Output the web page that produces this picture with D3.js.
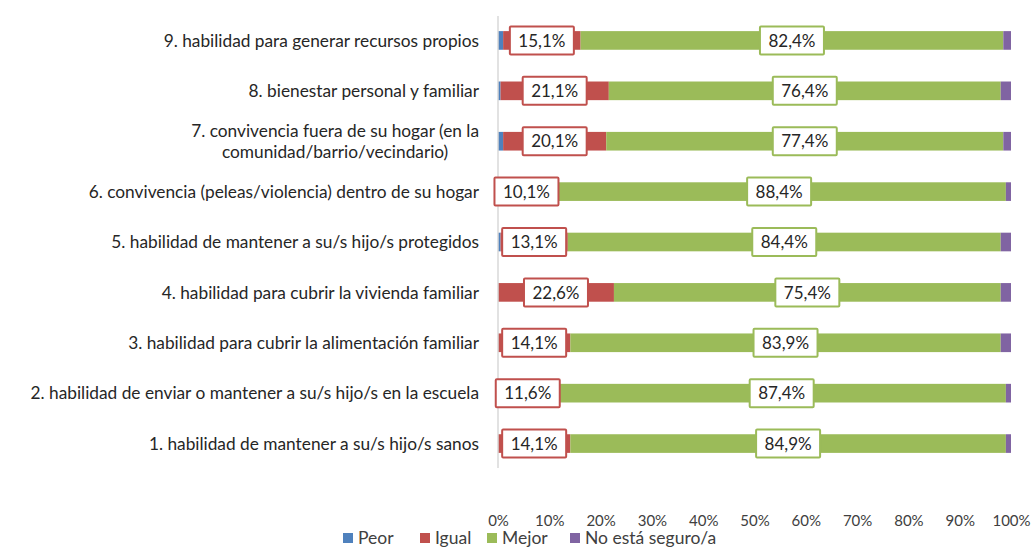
<!DOCTYPE html>
<html><head><meta charset="utf-8">
<script src="https://cdn.jsdelivr.net/npm/d3@7"></script>
<style>body{margin:0;background:#fff;} text{font-family:Lato,"Open Sans",sans-serif;}</style>
</head><body>
<svg id="chart" width="1034" height="547"></svg>
<script>
const categories = [
  "9. habilidad para generar recursos propios",
  "8. bienestar personal y familiar",
  "7. convivencia fuera de su hogar (en la|comunidad/barrio/vecindario)",
  "6. convivencia (peleas/violencia) dentro de su hogar",
  "5. habilidad de mantener a su/s hijo/s protegidos",
  "4. habilidad para cubrir la vivienda familiar",
  "3. habilidad para cubrir la alimentación familiar",
  "2. habilidad de enviar o mantener a su/s hijo/s en la escuela",
  "1. habilidad de mantener a su/s hijo/s sanos"
];
const seriesNames = ["Peor", "Igual", "Mejor", "No está seguro/a"];
const peor   = [1.0, 0.5, 1.0, 0.5, 0.5, 0.0, 0.0, 0.0, 0.0];
const igual  = [15.1, 21.1, 20.1, 10.1, 13.1, 22.6, 14.1, 11.6, 14.1];
const mejor  = [82.4, 76.4, 77.4, 88.4, 84.4, 75.4, 83.9, 87.4, 84.9];
const noSeg  = [1.5, 2.0, 1.5, 1.0, 2.0, 2.0, 2.0, 1.0, 1.0];
const xTicks = [0,10,20,30,40,50,60,70,80,90,100];
const colors = ["#4f81bd", "#c0504d", "#9bbb59", "#8064a2"];

const svg = d3.select("#chart");
const x = d3.scaleLinear().domain([0,100]).range([498, 1011]);
const y = d3.scaleBand().domain(categories).range([16, 468]).paddingInner(0.63).paddingOuter(0.3);

const data = categories.map((c,i)=>({cat:c, v:[peor[i], igual[i], mejor[i], noSeg[i]]}));
const stackData = data.map(d=>{ const o={cat:d.cat}; seriesNames.forEach((s,j)=>o[s]=d.v[j]); return o;});
const stack = d3.stack().keys(seriesNames)(stackData);

const g = svg.append("g");
stack.forEach((layer,j)=>{
  g.selectAll(null).data(layer).enter().append("rect")
    .attr("x", d=>x(d[0])).attr("width", d=>Math.max(0,x(d[1])-x(d[0])))
    .attr("y", d=>y(d.data.cat)).attr("height", y.bandwidth())
    .attr("fill", colors[j]);
});

// axis line
svg.append("line").attr("x1",x(0)).attr("x2",x(0)).attr("y1",16).attr("y2",468)
  .attr("stroke","#d9d9d9").attr("stroke-width",1.5);

// data labels for Igual and Mejor
[1,2].forEach(j=>{
  const layer = stack[j];
  layer.forEach(d=>{
    const cx = (x(d[0])+x(d[1]))/2;
    const cy = y(d.data.cat)+y.bandwidth()/2;
    const w = 64, h = 28;
    svg.append("rect").attr("x",cx-w/2).attr("y",cy-h/2).attr("width",w).attr("height",h)
      .attr("fill","#fff").attr("stroke",colors[j]).attr("stroke-width",2).attr("rx",1);
    svg.append("text").attr("x",cx).attr("y",cy).attr("dy","0.36em").attr("text-anchor","middle")
      .attr("font-size",17).attr("fill","#262626")
      .text((d[1]-d[0]).toFixed(1).replace(".",",")+"%");
  });
});

// category labels
const catFont = 17.3;
categories.forEach(c=>{
  const cy = y(c)+y.bandwidth()/2;
  const lines = c.split("|");
  if(lines.length===1){
    svg.append("text").attr("x",479).attr("y",cy).attr("dy","0.36em").attr("text-anchor","end")
      .attr("font-size",catFont).attr("fill","#262626").text(lines[0]);
  } else {
    const t1 = svg.append("text").attr("x",479).attr("y",cy-10).attr("dy","0.36em").attr("text-anchor","end")
      .attr("font-size",catFont).attr("fill","#262626").text(lines[0]);
    const w1 = t1.node().getComputedTextLength();
    svg.append("text").attr("x",479-w1/2).attr("y",cy+11).attr("dy","0.36em").attr("text-anchor","middle")
      .attr("font-size",catFont).attr("fill","#262626").text(lines[1]);
  }
});

// x axis tick labels
const ax = svg.append("g").attr("transform","translate(0,512)")
  .call(d3.axisBottom(x).tickValues(xTicks).tickFormat(d=>d+"%").tickSize(0));
ax.select(".domain").remove();
ax.selectAll("text").attr("font-size",15).attr("fill","#404040").attr("font-family","Lato,'Open Sans',sans-serif");

// legend
const legX = [343, 420, 487, 570];
seriesNames.forEach((s,j)=>{
  svg.append("rect").attr("x",legX[j]).attr("y",533).attr("width",10).attr("height",10).attr("fill",colors[j]);
  svg.append("text").attr("x",legX[j]+15).attr("y",538).attr("dy","0.36em").attr("font-size",17.5)
    .attr("fill","#404040").text(s);
});
</script>
</body></html>
